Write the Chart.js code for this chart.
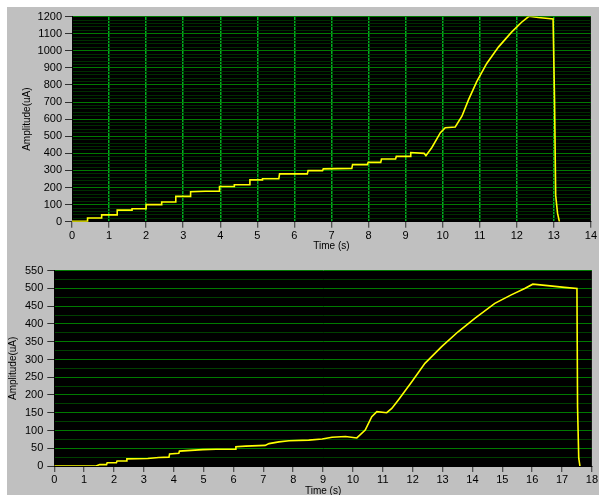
<!DOCTYPE html>
<html>
<head>
<meta charset="utf-8">
<script src="https://cdn.jsdelivr.net/npm/chart.js@4/dist/chart.umd.min.js"></script>
<style>
  html, body { margin: 0; padding: 0; background: #fff; overflow: hidden; }
  #panel { position: absolute; left: 7px; top: 7px; width: 592px; height: 488px; background: #c0c0c0; }
  #wrapTop { position: absolute; left: 7px; top: 7px; width: 592px; height: 247px; }
  #wrapBot { position: absolute; left: 7px; top: 250px; width: 592px; height: 250px; }
</style>
</head>
<body>
<div id="panel"></div>
<div id="wrapTop"><canvas id="chartTop"></canvas></div>
<div id="wrapBot"><canvas id="chartBot"></canvas></div>
<script>
// top trace: time (s) / amplitude (uA)
const topTime = [0, 0.42, 0.42, 0.8, 0.8, 1.22, 1.22, 1.62, 1.62, 2.0, 2.0, 2.42, 2.42, 2.8, 2.8, 3.2, 3.2, 3.6, 3.98, 3.98,
  4.38, 4.38, 4.78, 4.8, 5.14, 5.14, 5.58, 5.6, 6.35, 6.37, 6.76, 6.78, 7.55, 7.57, 7.97, 7.99, 8.33, 8.35, 8.73, 8.75,
  9.12, 9.14, 9.5, 9.55, 9.71, 9.94, 10.07, 10.34, 10.52, 10.7, 10.92, 11.19, 11.51, 11.86, 12.13, 12.33, 12.58, 12.98,
  13.0, 13.02, 13.05, 13.1, 13.15];
const topAmp = [3, 3, 22, 22, 40, 40, 68, 68, 76, 76, 100, 100, 115, 115, 148, 148, 175, 178, 178, 206,
  206, 216, 216, 245, 245, 251, 251, 280, 280, 299, 299, 309, 312, 334, 334, 347, 347, 367, 367, 382,
  382, 405, 400, 386, 434, 521, 550, 554, 617, 714, 820, 926, 1023, 1109, 1167, 1202, 1195, 1186,
  1186, 704, 154, 50, 0];

// bottom trace
const botTime = [0, 1.4, 1.52, 1.75, 1.77, 2.08, 2.1, 2.41, 2.43, 3.13, 3.5, 3.84, 3.86, 4.17, 4.19, 4.97, 5.42, 6.06, 6.08,
  6.41, 7.06, 7.19, 7.52, 7.86, 8.52, 8.97, 9.3, 9.75, 10.13, 10.41, 10.63, 10.8, 11.13, 11.3, 11.52, 11.97, 12.41,
  12.97, 13.52, 14.08, 14.75, 15.3, 15.75, 16.02, 16.52, 17.08, 17.5, 17.52, 17.56, 17.6];
const botAmp = [0, 0, 4, 4, 9, 9, 14, 14, 20, 21, 24, 25, 34, 36, 42, 46, 47, 47, 54,
  56, 58, 63, 68, 71, 73, 76, 81, 83, 79, 101, 139, 153, 150, 162, 186, 237, 289,
  336, 378, 416, 458, 482, 500, 512, 508, 503, 500, 167, 22, 0];

// axis ranges
const topXMax = 14, topYMax = 1200, topYMajor = 100, topYMinor = 20;
const botXMax = 18, botYMax = 550, botYMajor = 50, botYMinor = 25;

const tickFont = { family: 'Liberation Sans', size: 11 };
const titleFont = { family: 'Liberation Sans', size: 10 };

// black plot background
const blackArea = {
  id: 'blackArea',
  beforeDraw(chart) {
    const a = chart.chartArea, ctx = chart.ctx;
    ctx.save();
    ctx.fillStyle = '#000';
    ctx.fillRect(a.left, a.top, a.right - a.left, a.bottom - a.top);
    ctx.restore();
  }
};

function toPoints(xs, ys) {
  return xs.map((x, i) => ({ x: x, y: ys[i] }));
}

function makeChart(id, xs, ys, o) {
  return new Chart(document.getElementById(id), {
    type: 'line',
    data: {
      datasets: [{
        data: toPoints(xs, ys),
        borderColor: '#ffff00',
        borderWidth: 1.6,
        pointRadius: 0,
        tension: 0
      }]
    },
    options: {
      responsive: true,
      maintainAspectRatio: false,
      animation: false,
      layout: { padding: o.pad },
      plugins: { legend: { display: false }, tooltip: { enabled: false } },
      scales: {
        x: {
          type: 'linear', min: 0, max: o.xMax,
          ticks: { stepSize: 1, color: '#000', font: tickFont, padding: o.xPad, maxRotation: 0 },
          grid: {
            drawOnChartArea: o.vGrid,
            color: ctx => (ctx.tick && (ctx.tick.value === 0 || ctx.tick.value === o.xMax)) ? 'rgba(0,0,0,0)' : '#00b020',
            lineWidth: 1.5,
            tickLength: 6, tickColor: '#303030', tickWidth: 1
          },
          border: { color: '#000' },
          title: { display: true, text: 'Time (s)', color: '#000', font: titleFont, padding: { top: 0, bottom: o.tPad } },
          afterFit: s => { s.height = o.xH; }
        },
        y: {
          min: 0, max: o.yMax,
          ticks: {
            stepSize: o.minor, color: '#000', font: tickFont, padding: o.yPad, autoSkip: false,
            callback: v => (v % o.major === 0 ? v : '')
          },
          grid: {
            color: ctx => (ctx.tick && ctx.tick.value % o.major === 0) ? '#007a00' : o.minorColor,
            borderDash: ctx => (ctx.tick && ctx.tick.value % o.major === 0) ? [] : o.minorDash,
            lineWidth: 1,
            tickLength: 7,
            tickColor: ctx => (ctx.tick && ctx.tick.value % o.major === 0) ? '#303030' : 'rgba(0,0,0,0)'
          },
          border: { color: '#000' },
          title: { display: true, text: 'Amplitude(uA)', color: '#000', font: titleFont, padding: { top: o.yTitlePad, bottom: 0 } },
          afterFit: s => { s.width = o.yW; }
        }
      }
    },
    plugins: [blackArea]
  });
}

makeChart('chartTop', topTime, topAmp, {
  xMax: topXMax, yMax: topYMax, major: topYMajor, minor: topYMinor,
  pad: { top: 6.7, right: 6, bottom: 0, left: 0 },
  xH: 32.3, yW: 65, xPad: 2, yPad: 3, tPad: 1.5, yTitlePad: 14,
  vGrid: true, minorDash: [], minorColor: '#002e00'
});

makeChart('chartBot', botTime, botAmp, {
  xMax: botXMax, yMax: botYMax, major: botYMajor, minor: botYMinor,
  pad: { top: 20.7, right: 5, bottom: 0, left: 0 },
  xH: 34, yW: 47.3, xPad: 1, yPad: 4, tPad: 3, yTitlePad: 0,
  vGrid: false, minorDash: [1, 1], minorColor: '#004000'
});
</script>
</body>
</html>
